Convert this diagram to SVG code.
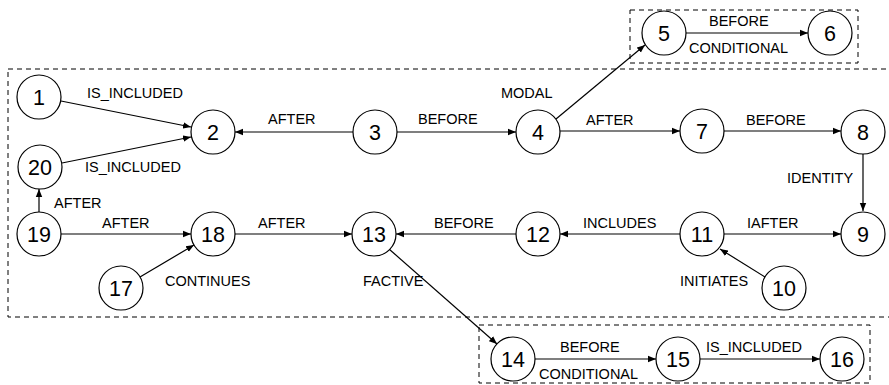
<svg xmlns="http://www.w3.org/2000/svg" width="889" height="385" viewBox="0 0 889 385">
<defs>
<marker id="arr" viewBox="0 0 10 10" refX="10" refY="5" markerWidth="8" markerHeight="8" markerUnits="userSpaceOnUse" orient="auto">
<path d="M0,1 L10,5 L0,9 z" fill="#000"/>
</marker>
</defs>
<style>
.box{fill:none;stroke:#000;stroke-width:1;stroke-dasharray:5,4}
.n circle{fill:#fff;stroke:#000;stroke-width:1.2}
.n text{font-family:"Liberation Sans",Arial,sans-serif;font-size:21.5px;text-anchor:middle;fill:#000}
.e line{stroke:#000;stroke-width:1.2;marker-end:url(#arr)}
.lbl{font-family:"Liberation Sans",Arial,sans-serif;font-size:14.5px;fill:#000}
</style>
<rect width="889" height="385" fill="#fff"/>
<rect class="box" x="8" y="69" width="890" height="248"/>
<rect class="box" x="630" y="10" width="228" height="53"/>
<rect class="box" x="479" y="325" width="391" height="58"/>
<g id="connectors" class="e">
<line x1="61" y1="101" x2="191" y2="127"/>
<line x1="62" y1="163" x2="191" y2="137"/>
<line x1="353" y1="132" x2="235" y2="132"/>
<line x1="397" y1="132" x2="516" y2="132"/>
<line x1="556" y1="119" x2="645" y2="45"/>
<line x1="560" y1="131" x2="680" y2="131"/>
<line x1="724" y1="131" x2="841" y2="131"/>
<line x1="686" y1="33" x2="808" y2="33"/>
<line x1="863" y1="154" x2="863" y2="211"/>
<line x1="724" y1="234" x2="841" y2="234"/>
<line x1="680" y1="234" x2="560" y2="234"/>
<line x1="516" y1="234" x2="396" y2="234"/>
<line x1="235" y1="234" x2="352" y2="234"/>
<line x1="61" y1="234" x2="191" y2="234"/>
<line x1="39" y1="212" x2="39" y2="189"/>
<line x1="140" y1="277" x2="194" y2="245"/>
<line x1="765" y1="277" x2="720" y2="249"/>
<line x1="389" y1="249" x2="497" y2="344"/>
<line x1="535" y1="359" x2="656" y2="359"/>
<line x1="700" y1="359" x2="820" y2="359"/>
</g>
<g id="labels">
<text class="lbl" x="87" y="98">IS_INCLUDED</text>
<text class="lbl" x="85" y="172">IS_INCLUDED</text>
<text class="lbl" x="268" y="124">AFTER</text>
<text class="lbl" x="418" y="124">BEFORE</text>
<text class="lbl" x="501" y="98">MODAL</text>
<text class="lbl" x="586" y="125">AFTER</text>
<text class="lbl" x="746" y="125">BEFORE</text>
<text class="lbl" x="709" y="26">BEFORE</text>
<text class="lbl" x="689" y="53">CONDITIONAL</text>
<text class="lbl" x="787" y="183">IDENTITY</text>
<text class="lbl" x="54" y="208">AFTER</text>
<text class="lbl" x="102" y="228">AFTER</text>
<text class="lbl" x="258" y="228">AFTER</text>
<text class="lbl" x="165" y="286">CONTINUES</text>
<text class="lbl" x="434" y="228">BEFORE</text>
<text class="lbl" x="363" y="286">FACTIVE</text>
<text class="lbl" x="583" y="228">INCLUDES</text>
<text class="lbl" x="747" y="228">IAFTER</text>
<text class="lbl" x="680" y="286">INITIATES</text>
<text class="lbl" x="560" y="352">BEFORE</text>
<text class="lbl" x="539" y="379">CONDITIONAL</text>
<text class="lbl" x="706" y="352">IS_INCLUDED</text>
</g>
<g id="n1" class="n"><circle cx="39" cy="97" r="22"/><text x="39" y="104.5">1</text></g>
<g id="n2" class="n"><circle cx="213" cy="132" r="22"/><text x="213" y="139.5">2</text></g>
<g id="n3" class="n"><circle cx="375" cy="132" r="22"/><text x="375" y="139.5">3</text></g>
<g id="n4" class="n"><circle cx="538" cy="132" r="22"/><text x="538" y="139.5">4</text></g>
<g id="n5" class="n"><circle cx="664" cy="33" r="22"/><text x="664" y="40.5">5</text></g>
<g id="n6" class="n"><circle cx="830" cy="33" r="22"/><text x="830" y="40.5">6</text></g>
<g id="n7" class="n"><circle cx="702" cy="131" r="22"/><text x="702" y="138.5">7</text></g>
<g id="n8" class="n"><circle cx="863" cy="132" r="22"/><text x="863" y="139.5">8</text></g>
<g id="n9" class="n"><circle cx="863" cy="234" r="22"/><text x="863" y="241.5">9</text></g>
<g id="n10" class="n"><circle cx="784" cy="288" r="22"/><text x="784" y="295.5">10</text></g>
<g id="n11" class="n"><circle cx="702" cy="234" r="22"/><text x="702" y="241.5">11</text></g>
<g id="n12" class="n"><circle cx="538" cy="234" r="22"/><text x="538" y="241.5">12</text></g>
<g id="n13" class="n"><circle cx="374" cy="234" r="22"/><text x="374" y="241.5">13</text></g>
<g id="n14" class="n"><circle cx="513" cy="359" r="22"/><text x="513" y="366.5">14</text></g>
<g id="n15" class="n"><circle cx="678" cy="359" r="22"/><text x="678" y="366.5">15</text></g>
<g id="n16" class="n"><circle cx="842" cy="359" r="22"/><text x="842" y="366.5">16</text></g>
<g id="n17" class="n"><circle cx="121" cy="288" r="22"/><text x="121" y="295.5">17</text></g>
<g id="n18" class="n"><circle cx="213" cy="234" r="22"/><text x="213" y="241.5">18</text></g>
<g id="n19" class="n"><circle cx="39" cy="234" r="22"/><text x="39" y="241.5">19</text></g>
<g id="n20" class="n"><circle cx="40" cy="167" r="22"/><text x="40" y="174.5">20</text></g>
</svg>
